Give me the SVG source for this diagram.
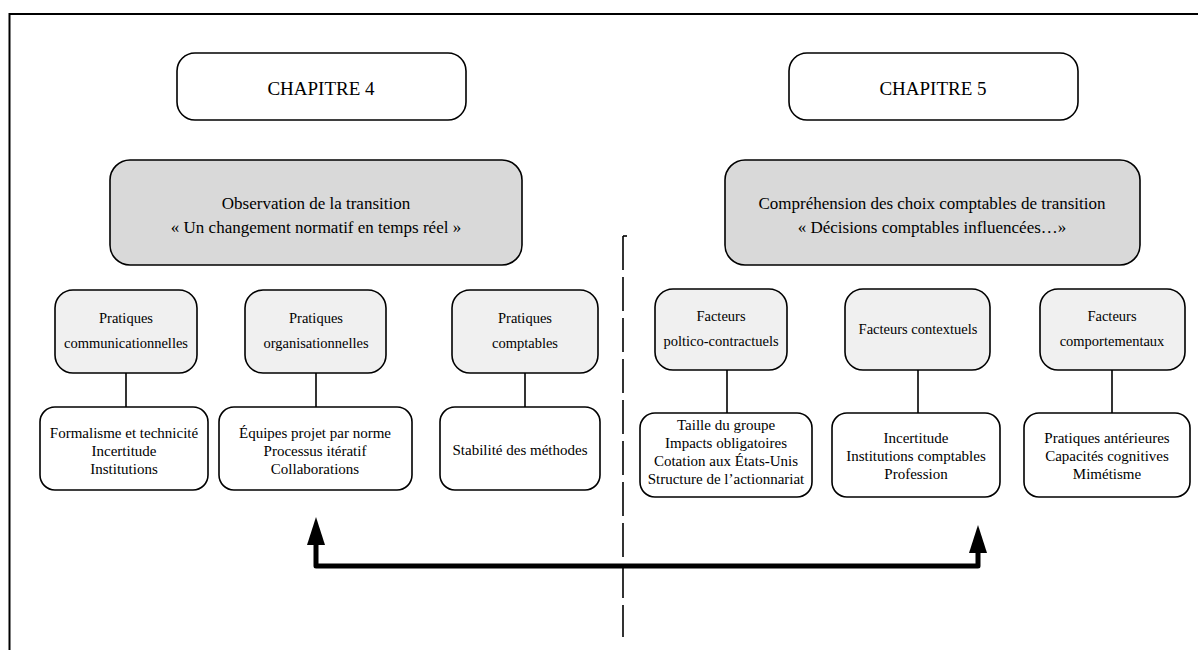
<svg xmlns="http://www.w3.org/2000/svg" width="1198" height="650" viewBox="0 0 1198 650">
<style>
.box{stroke:#000;stroke-width:1.6}
.w{fill:#fff}
.g{fill:#d9d9d9}
.lg{fill:#f0f0f0}
text{font-family:"Liberation Serif","Times New Roman",serif;fill:#000;text-anchor:middle}
.t1{font-size:19px}
.t2{font-size:17px}
.t3{font-size:14.5px}
.t4{font-size:15px}
.conn{stroke:#000;stroke-width:1.6;fill:none}
</style>
<defs>
<marker id="ah" viewBox="0 0 18 28" refX="9" refY="0" markerWidth="18" markerHeight="28" markerUnits="userSpaceOnUse" orient="auto-start-reverse">
<path d="M9,0 L18,28 L0,28 Z" fill="#000"/>
</marker>
</defs>
<rect width="1198" height="650" fill="#fff"/>
<path d="M9.5,650 L9.5,14 L1198,14" fill="none" stroke="#000" stroke-width="2"/>

<g id="connectors">
<line class="conn" x1="126" y1="373" x2="126" y2="407"/>
<line class="conn" x1="316" y1="373" x2="316" y2="407"/>
<line class="conn" x1="525" y1="373" x2="525" y2="407"/>
<line class="conn" x1="727" y1="370" x2="727" y2="413"/>
<line class="conn" x1="918" y1="370" x2="918" y2="413"/>
<line class="conn" x1="1112" y1="370" x2="1112" y2="413"/>
<path d="M623,236 L627,236" stroke="#000" stroke-width="1.6" fill="none"/>
<line x1="623" y1="236" x2="623" y2="637" stroke="#000" stroke-width="1.6" stroke-dasharray="34 7"/>
<path d="M316,545 L316,566 L978,566 L978,553" fill="none" stroke="#000" stroke-width="5" stroke-linejoin="round"/>
<path d="M316,517 L325,545 L307,545 Z" fill="#000"/>
<path d="M978,525 L987,553 L969,553 Z" fill="#000"/>
</g>

<g id="chap4">
<rect class="box w" x="177" y="53" width="289" height="67" rx="18"/>
<text class="t1" x="321" y="95">CHAPITRE 4</text>
</g>
<g id="chap5">
<rect class="box w" x="789" y="53" width="289" height="67" rx="18"/>
<text class="t1" x="933" y="95">CHAPITRE 5</text>
</g>

<g id="observation">
<rect class="box g" x="110" y="160" width="412" height="105" rx="20"/>
<text class="t2" x="316" y="209">Observation de la transition</text>
<text class="t2" x="316" y="233">« Un changement normatif en temps réel »</text>
</g>
<g id="comprehension">
<rect class="box g" x="725" y="160" width="415" height="105" rx="20"/>
<text class="t2" x="932" y="209">Compréhension des choix comptables de transition</text>
<text class="t2" x="932" y="233">« Décisions comptables influencées…»</text>
</g>

<g id="pcomm">
<rect class="box lg" x="55" y="290" width="142" height="83" rx="18"/>
<text class="t3" x="126" y="323">Pratiques</text>
<text class="t3" x="126" y="348">communicationnelles</text>
</g>
<g id="porg">
<rect class="box lg" x="245" y="290" width="141" height="83" rx="18"/>
<text class="t3" x="316" y="323">Pratiques</text>
<text class="t3" x="316" y="348">organisationnelles</text>
</g>
<g id="pcompt">
<rect class="box lg" x="452" y="290" width="146" height="83" rx="18"/>
<text class="t3" x="525" y="323">Pratiques</text>
<text class="t3" x="525" y="348">comptables</text>
</g>

<g id="fpol">
<rect class="box lg" x="655" y="289" width="132" height="81" rx="18"/>
<text class="t3" x="721" y="321">Facteurs</text>
<text class="t3" x="721" y="346">poltico-contractuels</text>
</g>
<g id="fctx">
<rect class="box lg" x="845" y="289" width="145" height="81" rx="18"/>
<text class="t3" x="918" y="334">Facteurs contextuels</text>
</g>
<g id="fcomp">
<rect class="box lg" x="1040" y="289" width="145" height="81" rx="18"/>
<text class="t3" x="1112" y="321">Facteurs</text>
<text class="t3" x="1112" y="346">comportementaux</text>
</g>

<g id="formalisme">
<rect class="box w" x="40" y="407" width="168" height="83" rx="15"/>
<text class="t4" x="124" y="438">Formalisme et technicité</text>
<text class="t4" x="124" y="456">Incertitude</text>
<text class="t4" x="124" y="474">Institutions</text>
</g>
<g id="equipes">
<rect class="box w" x="219" y="407" width="193" height="83" rx="15"/>
<text class="t4" x="315" y="438">Équipes projet par norme</text>
<text class="t4" x="315" y="456">Processus itératif</text>
<text class="t4" x="315" y="474">Collaborations</text>
</g>
<g id="stabilite">
<rect class="box w" x="440" y="407" width="160" height="83" rx="15"/>
<text class="t4" x="520" y="455">Stabilité des méthodes</text>
</g>

<g id="taille">
<rect class="box w" x="640" y="413" width="172" height="84" rx="15"/>
<text class="t4" x="726" y="430">Taille du groupe</text>
<text class="t4" x="726" y="448">Impacts obligatoires</text>
<text class="t4" x="726" y="466">Cotation aux États-Unis</text>
<text class="t4" x="726" y="484">Structure de l’actionnariat</text>
</g>
<g id="incertitude">
<rect class="box w" x="832" y="413" width="168" height="84" rx="15"/>
<text class="t4" x="916" y="443">Incertitude</text>
<text class="t4" x="916" y="461">Institutions comptables</text>
<text class="t4" x="916" y="479">Profession</text>
</g>
<g id="anterieures">
<rect class="box w" x="1024" y="413" width="166" height="84" rx="15"/>
<text class="t4" x="1107" y="443">Pratiques antérieures</text>
<text class="t4" x="1107" y="461">Capacités cognitives</text>
<text class="t4" x="1107" y="479">Mimétisme</text>
</g>
</svg>
